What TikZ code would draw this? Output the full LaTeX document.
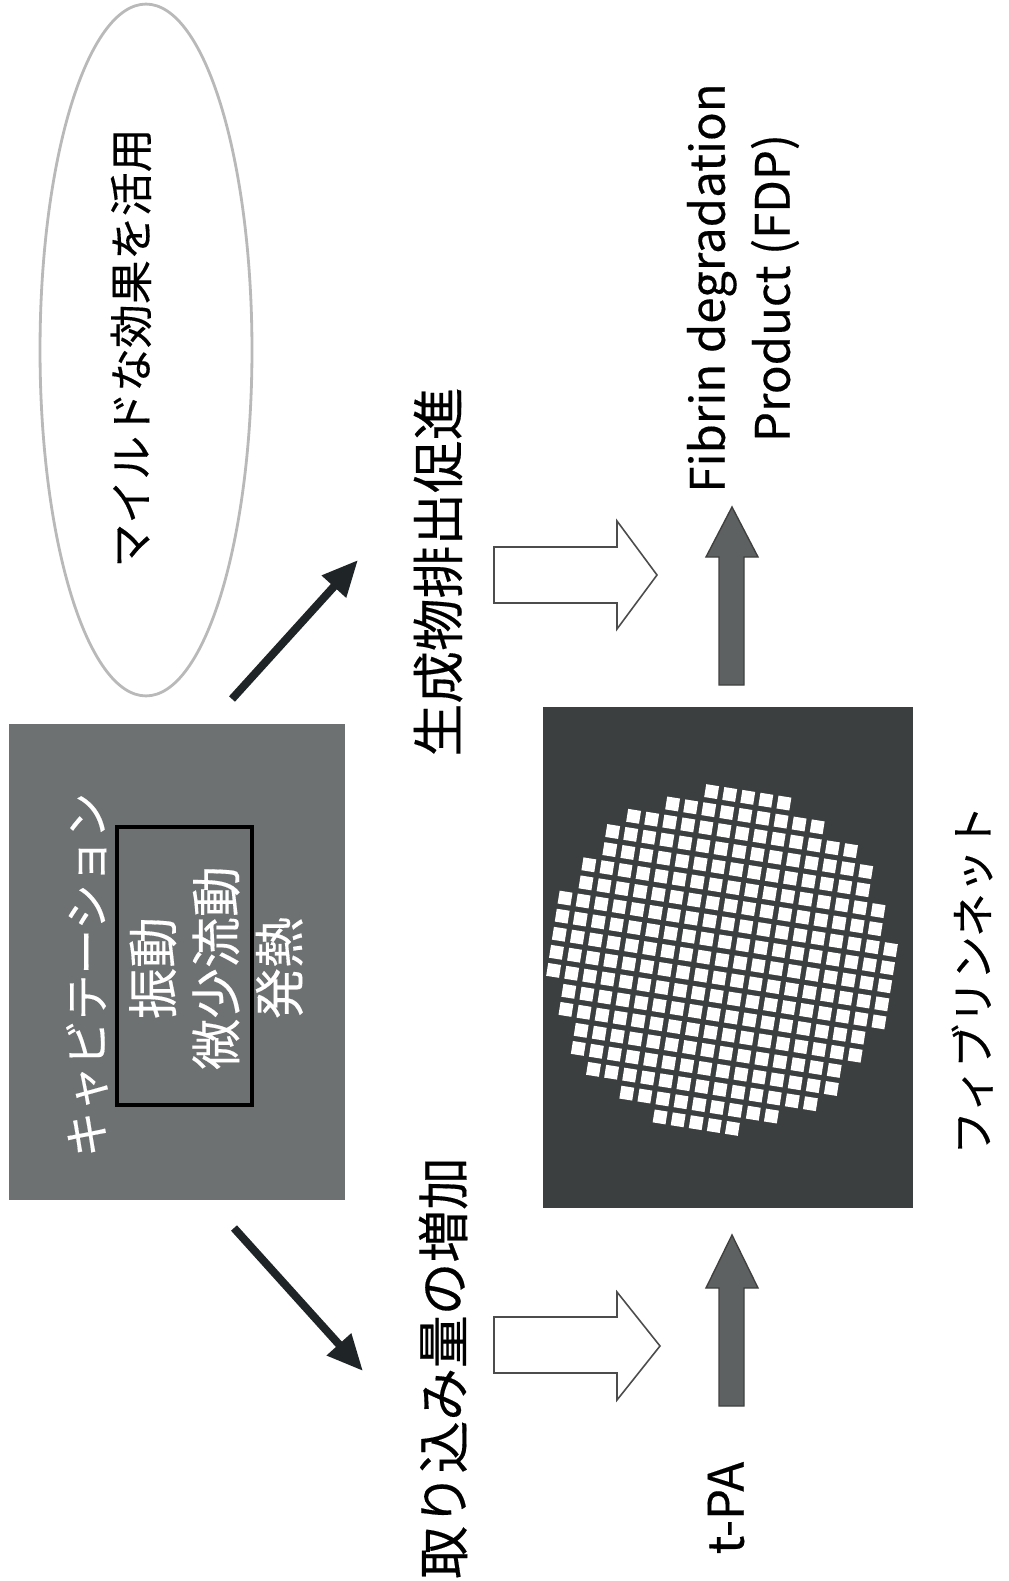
\documentclass[tikz,border=0pt]{standalone}
\usepackage{fontspec}
\setmainfont[FakeBold=0.3]{Noto Sans CJK JP}
\usetikzlibrary{arrows.meta, shapes.geometric, calc}

\definecolor{cavgray}{HTML}{6E7172}
\definecolor{netdark}{HTML}{3B3F3F}
\definecolor{shaftgray}{HTML}{5E6161}
\definecolor{inkblack}{HTML}{1F2526}

\begin{document}
\begin{tikzpicture}[
    x=0.02cm, y=-0.02cm,
    vlabel/.style={rotate=90, inner sep=0pt, font=\fontsize{30}{36}\selectfont},
    boxtext/.style={rotate=90, inner sep=0pt, text=white, align=center, font=\fontsize{29}{36}\selectfont},
    hollow/.style={draw=black!70, line width=0.9pt, fill=white, line join=miter},
    shaft/.style={draw=black!75, line width=0.8pt, fill=shaftgray},
    push/.style={draw=inkblack, line width=0.16cm, -{Triangle[length=0.72cm, width=0.62cm]}},
    sq/.style={fill=white, minimum size=0.26cm, inner sep=0pt, rotate=-9}
]
    \useasboundingbox (0,0) rectangle (1008,1581);

    % mild effect bubble
    \node[ellipse, draw=gray!55, line width=1.6pt, minimum width=4.24cm, minimum height=13.84cm] (mild) at (146,350) {};
    \node[vlabel, font=\fontsize{25}{30}\selectfont] (mildtext) at (131,348) {マイルドな効果を活用};

    % cavitation box
    \node[fill=cavgray, minimum width=6.74cm, minimum height=9.54cm] (cav) at (177,962) {};
    \node[boxtext, font=\fontsize{26}{30}\selectfont] (cavtext) at (87,975) {キャビテーション};
    \node[draw=black, line width=2.2pt, minimum width=2.7cm, minimum height=5.56cm] (effects) at (184.5,966) {};
    \node[boxtext] (efftext) at (216,968) {振動\\微少流動\\発熱};

    % diagonal arrows out of the box
    \coordinate (upS) at (232,699);
    \coordinate (upE) at (358,560);
    \coordinate (dnS) at (234,1228);
    \coordinate (dnE) at (363,1371);
    \draw[push] (upS) -- (upE);
    \draw[push] (dnS) -- (dnE);

    \node[vlabel] (excrete) at (438,572) {生成物排出促進};
    \node[vlabel] (uptake) at (443,1368) {取り込み量の増加};

    % open block arrows
    \draw[hollow] (494,547) -- (617,547) -- (617,521) -- (657,575) -- (617,629) -- (617,603) -- (494,603) -- cycle;
    \draw[hollow] (494,1317) -- (617,1317) -- (617,1292) -- (660,1346) -- (617,1400) -- (617,1373) -- (494,1373) -- cycle;

    % fibrin net
    \node[fill=netdark, minimum width=7.4cm, minimum height=10.02cm] (net) at (728,957.5) {};
    \foreach \i in {-10,...,10}
      \foreach \j in {-10,...,10} {
        \pgfmathparse{(\i*\i+\j*\j<=88)?1:0}
        \ifnum\pgfmathresult=1
          \pgfmathsetmacro\px{722+18.3*(\i*cos(9)-\j*sin(9))}
          \pgfmathsetmacro\py{960+18.3*(\i*sin(9)+\j*cos(9))}
          \node[sq] at (\px,\py) {};
        \fi
      }
    \node[vlabel, font=\fontsize{25}{30}\selectfont] (netname) at (972,980) {フィブリンネット};

    % t-PA in, FDP out
    \draw[shaft] (719,685) -- (719,557) -- (706,557) -- (732,507) -- (758,557) -- (744,557) -- (744,685) -- cycle;
    \draw[shaft] (719,1406) -- (719,1288) -- (706,1288) -- (732,1235) -- (758,1288) -- (744,1288) -- (744,1406) -- cycle;
    \node[vlabel, align=center, font=\fontsize{27}{37}\selectfont] (fdp) at (743,288) {Fibrin degradation\\Product (FDP)};
    \node[vlabel, font=\fontsize{28}{34}\selectfont] (tpa) at (726,1508) {t-PA};
\end{tikzpicture}
\end{document}
